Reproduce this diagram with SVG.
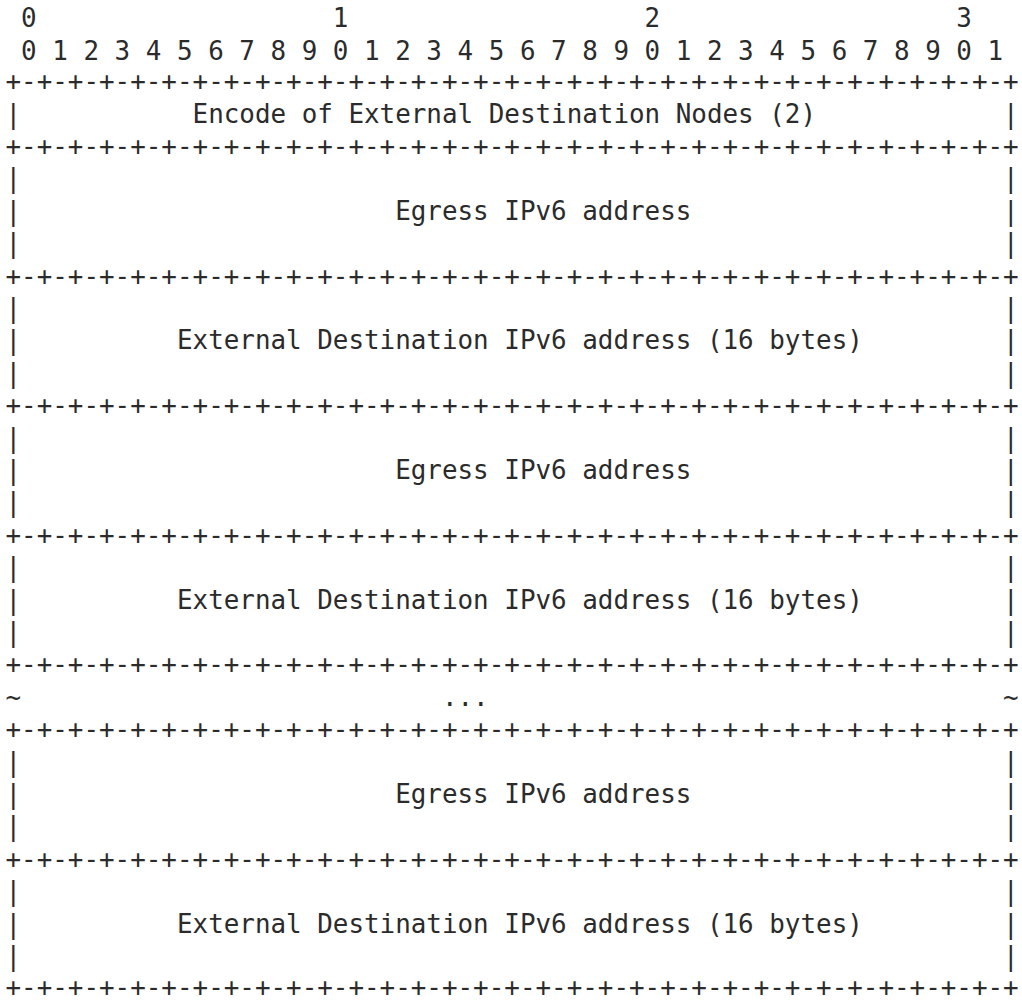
<svg xmlns="http://www.w3.org/2000/svg" width="1022" height="1002" viewBox="0 0 1022 1002" xml:space="preserve">
<style>
text { font-family: "DejaVu Sans Mono", "Liberation Mono", monospace; font-size: 25.9px; fill: #2b2b2b; white-space: pre; }
</style>
<rect width="1022" height="1002" fill="#ffffff"/>
<g id="ruler">
<text x="5.5" y="27.3"> 0                   1                   2                   3</text>
<text x="5.5" y="59.7"> 0 1 2 3 4 5 6 7 8 9 0 1 2 3 4 5 6 7 8 9 0 1 2 3 4 5 6 7 8 9 0 1</text>
</g>
<g id="borders">
<text x="5.5" y="90.1">+-+-+-+-+-+-+-+-+-+-+-+-+-+-+-+-+-+-+-+-+-+-+-+-+-+-+-+-+-+-+-+-+</text>
<text x="5.5" y="154.9">+-+-+-+-+-+-+-+-+-+-+-+-+-+-+-+-+-+-+-+-+-+-+-+-+-+-+-+-+-+-+-+-+</text>
<text x="5.5" y="284.5">+-+-+-+-+-+-+-+-+-+-+-+-+-+-+-+-+-+-+-+-+-+-+-+-+-+-+-+-+-+-+-+-+</text>
<text x="5.5" y="414.1">+-+-+-+-+-+-+-+-+-+-+-+-+-+-+-+-+-+-+-+-+-+-+-+-+-+-+-+-+-+-+-+-+</text>
<text x="5.5" y="543.7">+-+-+-+-+-+-+-+-+-+-+-+-+-+-+-+-+-+-+-+-+-+-+-+-+-+-+-+-+-+-+-+-+</text>
<text x="5.5" y="673.3">+-+-+-+-+-+-+-+-+-+-+-+-+-+-+-+-+-+-+-+-+-+-+-+-+-+-+-+-+-+-+-+-+</text>
<text x="5.5" y="738.1">+-+-+-+-+-+-+-+-+-+-+-+-+-+-+-+-+-+-+-+-+-+-+-+-+-+-+-+-+-+-+-+-+</text>
<text x="5.5" y="867.7">+-+-+-+-+-+-+-+-+-+-+-+-+-+-+-+-+-+-+-+-+-+-+-+-+-+-+-+-+-+-+-+-+</text>
<text x="5.5" y="995.8">+-+-+-+-+-+-+-+-+-+-+-+-+-+-+-+-+-+-+-+-+-+-+-+-+-+-+-+-+-+-+-+-+</text>
</g>
<g id="field-encode">
<text x="5.5" y="122.5">|           Encode of External Destination Nodes (2)            |</text>
</g>
<g id="field-egress-1">
<text x="5.5" y="187.3">|                                                               |</text>
<text x="5.5" y="219.7">|                        Egress IPv6 address                    |</text>
<text x="5.5" y="252.1">|                                                               |</text>
</g>
<g id="field-external-1">
<text x="5.5" y="316.9">|                                                               |</text>
<text x="5.5" y="349.3">|          External Destination IPv6 address (16 bytes)         |</text>
<text x="5.5" y="381.7">|                                                               |</text>
</g>
<g id="field-egress-2">
<text x="5.5" y="446.5">|                                                               |</text>
<text x="5.5" y="478.9">|                        Egress IPv6 address                    |</text>
<text x="5.5" y="511.3">|                                                               |</text>
</g>
<g id="field-external-2">
<text x="5.5" y="576.1">|                                                               |</text>
<text x="5.5" y="608.5">|          External Destination IPv6 address (16 bytes)         |</text>
<text x="5.5" y="640.9">|                                                               |</text>
</g>
<g id="field-ellipsis">
<text x="5.5" y="705.7">~                           ...                                 ~</text>
</g>
<g id="field-egress-n">
<text x="5.5" y="770.5">|                                                               |</text>
<text x="5.5" y="802.9">|                        Egress IPv6 address                    |</text>
<text x="5.5" y="835.3">|                                                               |</text>
</g>
<g id="field-external-n">
<text x="5.5" y="900.1">|                                                               |</text>
<text x="5.5" y="932.5">|          External Destination IPv6 address (16 bytes)         |</text>
<text x="5.5" y="964.9">|                                                               |</text>
</g>
</svg>
